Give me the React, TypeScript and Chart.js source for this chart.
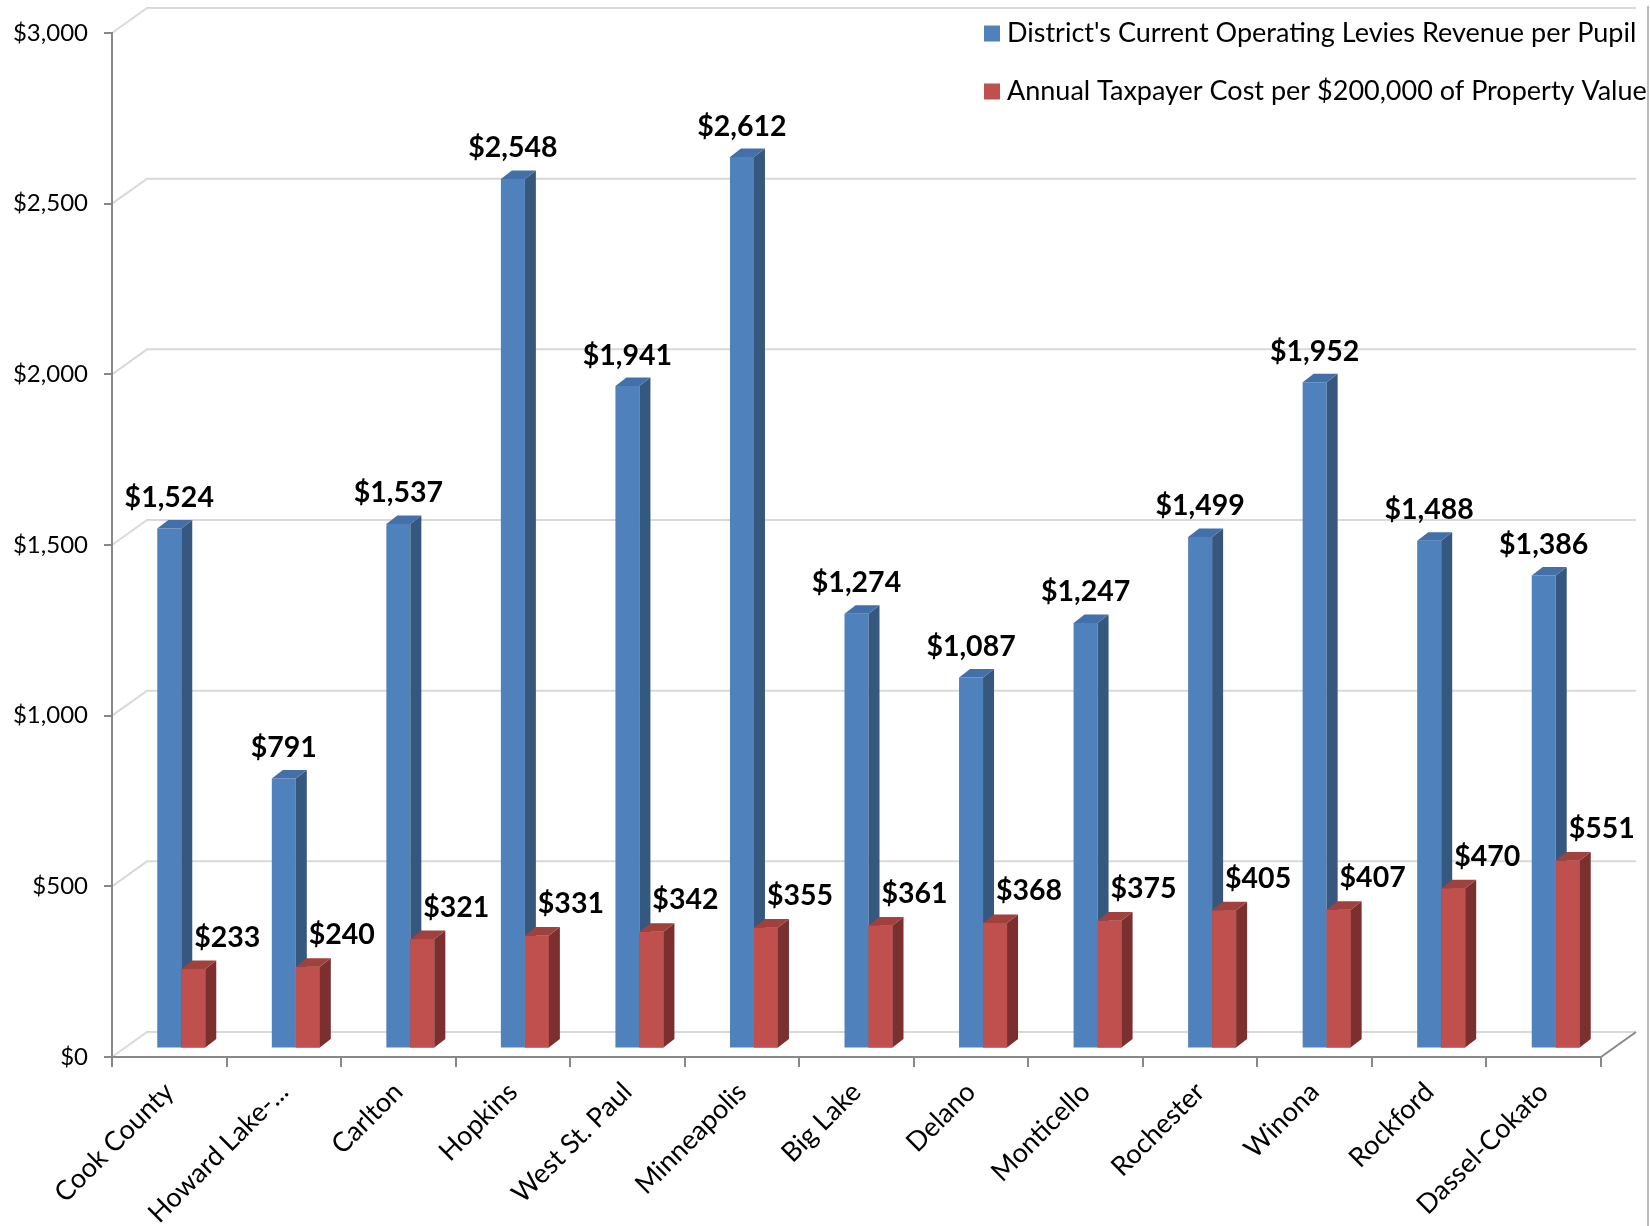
import React, { useEffect, useRef } from "react";
import { Chart, registerables } from "chart.js";

Chart.register(...registerables);

const categories = [
  "Cook County",
  "Howard Lake-...",
  "Carlton",
  "Hopkins",
  "West St. Paul",
  "Minneapolis",
  "Big Lake",
  "Delano",
  "Monticello",
  "Rochester",
  "Winona",
  "Rockford",
  "Dassel-Cokato",
];
const levyRevenuePerPupil = [1524, 791, 1537, 2548, 1941, 2612, 1274, 1087, 1247, 1499, 1952, 1488, 1386];
const taxpayerCostPer200k = [233, 240, 321, 331, 342, 355, 361, 368, 375, 405, 407, 470, 551];
const seriesNames = [
  "District's Current Operating Levies Revenue per Pupil",
  "Annual Taxpayer Cost per $200,000 of Property Value",
];
const yTicks = [0, 500, 1000, 1500, 2000, 2500, 3000];

const W = 1650;
const H = 1226;
const FONT = "Lato, 'Open Sans', sans-serif";

// 3D geometry
const DX = 35; // wall depth
const DY = -25;
const BX = 12; // bar placement depth
const BY = -8.4;
const SX = 11; // bar depth
const SY = -8.5;

const BLUE = { front: "#4F81BD", side: "#36587F", top: "#4470AA" };
const RED = { front: "#C0504D", side: "#7B2F2E", top: "#A0413E" };

const money = (v: number) => "$" + Math.round(v).toLocaleString("en-US");

function drawSideTop(ctx: CanvasRenderingContext2D, bar: any, col: { side: string; top: string }) {
  const { x, y, base, width } = bar.getProps(["x", "y", "base", "width"], true);
  const x0 = x - width / 2;
  const x1 = x + width / 2;
  ctx.fillStyle = col.side;
  ctx.beginPath();
  ctx.moveTo(x1, y);
  ctx.lineTo(x1 + SX, y + SY);
  ctx.lineTo(x1 + SX, base + SY);
  ctx.lineTo(x1, base);
  ctx.closePath();
  ctx.fill();
  ctx.fillStyle = col.top;
  ctx.beginPath();
  ctx.moveTo(x0, y);
  ctx.lineTo(x1, y);
  ctx.lineTo(x1 + SX, y + SY);
  ctx.lineTo(x0 + SX, y + SY);
  ctx.closePath();
  ctx.fill();
}

function drawFront(ctx: CanvasRenderingContext2D, bar: any, color: string) {
  const { x, y, base, width } = bar.getProps(["x", "y", "base", "width"], true);
  ctx.fillStyle = color;
  ctx.fillRect(x - width / 2, y, width, base - y);
}

const threeD = {
  id: "threeD",
  beforeDraw(chart: any) {
    const { ctx, chartArea: a, scales } = chart;
    const y = scales.y;
    ctx.save();
    ctx.lineWidth = 2;
    ctx.strokeStyle = "#D9D9D9";
    yTicks.forEach((v) => {
      const py = y.getPixelForValue(v);
      ctx.beginPath();
      ctx.moveTo(a.left, py);
      ctx.lineTo(a.left + DX, py + DY);
      ctx.lineTo(a.right + DX, py + DY);
      ctx.stroke();
    });
    const p0 = y.getPixelForValue(0);
    ctx.strokeStyle = "#888888";
    ctx.beginPath();
    ctx.moveTo(a.right, p0);
    ctx.lineTo(a.right + DX, p0 + DY);
    ctx.stroke();
    // outer right edge
    ctx.strokeStyle = "#A6A6A6";
    ctx.lineWidth = 1.5;
    ctx.beginPath();
    ctx.moveTo(W - 2, 6);
    ctx.lineTo(W - 2, H);
    ctx.stroke();
    ctx.restore();
  },
  beforeDatasetsDraw(chart: any) {
    chart.ctx.save();
    chart.ctx.translate(BX, BY);
  },
  afterDatasetsDraw(chart: any) {
    const ctx = chart.ctx;
    const m0 = chart.getDatasetMeta(0);
    const m1 = chart.getDatasetMeta(1);
    for (let i = 0; i < categories.length; i++) {
      drawSideTop(ctx, m0.data[i], BLUE);
      drawFront(ctx, m1.data[i], RED.front);
      drawSideTop(ctx, m1.data[i], RED);
    }
    ctx.fillStyle = "#000";
    ctx.font = `bold 28.5px ${FONT}`;
    ctx.textAlign = "center";
    ctx.textBaseline = "alphabetic";
    for (let i = 0; i < categories.length; i++) {
      const b0 = m0.data[i].getProps(["x", "y"], true);
      ctx.fillText(money(levyRevenuePerPupil[i]), b0.x, b0.y + SY - 13);
      const b1 = m1.data[i].getProps(["x", "y"], true);
      ctx.fillText(money(taxpayerCostPer200k[i]), b1.x + 34, b1.y + SY - 14);
    }
    ctx.restore();
  },
  afterDraw(chart: any) {
    const ctx = chart.ctx;
    ctx.save();
    const cols = [BLUE.front, RED.front];
    const ys = [33.5, 91.5];
    ctx.font = `27px ${FONT}`;
    ctx.textBaseline = "middle";
    ctx.textAlign = "left";
    for (let k = 0; k < 2; k++) {
      ctx.fillStyle = cols[k];
      ctx.fillRect(984, ys[k] - 8, 16, 16);
      ctx.fillStyle = "#000";
      ctx.fillText(seriesNames[k], 1007, ys[k]);
    }
    ctx.restore();
  },
};

export default function App() {
  const ref = useRef<HTMLCanvasElement | null>(null);
  useEffect(() => {
    if (!ref.current) return;
    const chart = new Chart(ref.current, {
      type: "bar",
      data: {
        labels: categories,
        datasets: [
          {
            label: seriesNames[0],
            data: levyRevenuePerPupil,
            backgroundColor: BLUE.front,
            categoryPercentage: 0.419,
            barPercentage: 1,
            clip: false as any,
          },
          {
            label: seriesNames[1],
            data: taxpayerCostPer200k,
            backgroundColor: RED.front,
            categoryPercentage: 0.419,
            barPercentage: 1,
            clip: false as any,
          },
        ],
      },
      options: {
        animation: false,
        responsive: false,
        maintainAspectRatio: false,
        layout: { padding: { top: 33, right: 49, left: 0, bottom: 0 } },
        plugins: {
          legend: { display: false },
          tooltip: { enabled: false },
        },
        scales: {
          x: {
            afterFit: (s: any) => {
              s.height = 169;
            },
            grid: {
              offset: true,
              drawOnChartArea: false,
              tickLength: 10,
              color: "#888888",
              lineWidth: 2,
            },
            border: { display: true, color: "#888888", width: 2 },
            ticks: {
              autoSkip: false,
              maxRotation: 45,
              minRotation: 45,
              padding: 9,
              color: "#000",
              font: { family: FONT, size: 27 },
            },
          },
          y: {
            min: 0,
            max: 3000,
            afterFit: (s: any) => {
              s.width = 112;
            },
            grid: {
              drawOnChartArea: false,
              tickLength: 8,
              color: "#888888",
              lineWidth: 2,
            },
            border: { display: true, color: "#888888", width: 2 },
            ticks: {
              stepSize: 500,
              padding: 16,
              color: "#000",
              font: { family: FONT, size: 24 },
              callback: (v: any) => money(Number(v)),
            },
          },
        },
      },
      plugins: [threeD],
    });
    return () => chart.destroy();
  }, []);
  return (
    <div style={{ position: "absolute", left: 0, top: 0, width: W, height: H, background: "#fff" }}>
      <canvas ref={ref} width={W} height={H} style={{ width: W, height: H, display: "block" }} />
    </div>
  );
}
